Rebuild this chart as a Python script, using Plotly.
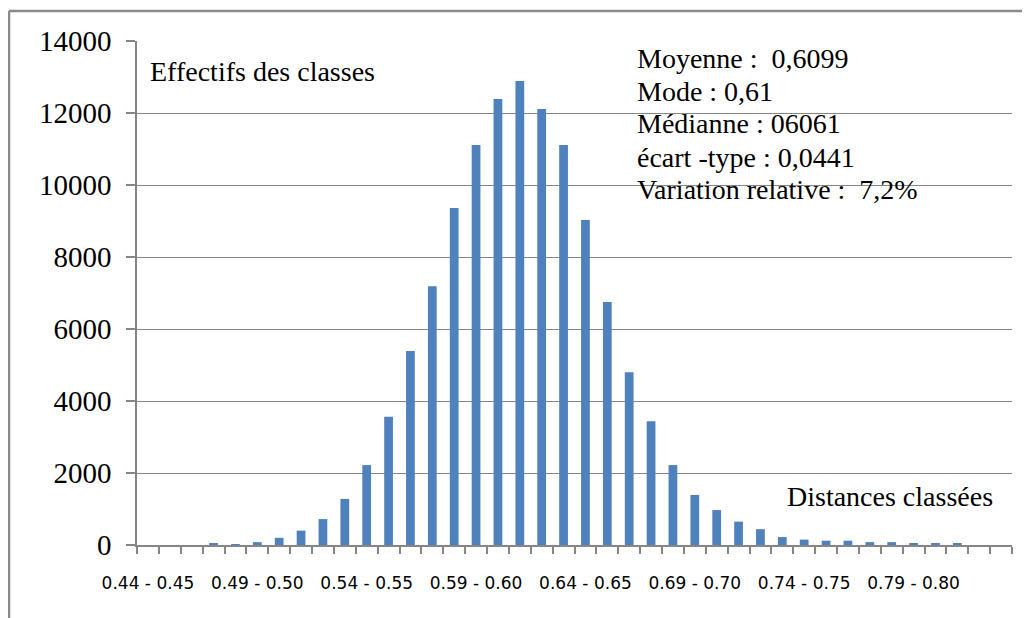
import plotly.graph_objects as go

# Class labels (bins of width 0.01 from 0.44 to 0.84)
lower_bounds = [0.44 + 0.01 * i for i in range(40)]
categories = [f"{lo:.2f} - {lo + 0.01:.2f}" for lo in lower_bounds]

# Counts per class
counts = [0, 0, 0, 30, 25, 80, 200, 400, 720, 1280,
          2220, 3560, 5390, 7190, 9360, 11110, 12390, 12890, 12110, 11110,
          9030, 6750, 4800, 3440, 2220, 1390, 970, 650, 440, 220,
          150, 120, 120, 80, 80, 30, 30, 30, 0, 0]

# Labels shown every 5 classes
label_idx = list(range(0, 40, 5))
label_text = [categories[i] for i in label_idx]

y_ticks = [0, 2000, 4000, 6000, 8000, 10000, 12000, 14000]

stats_lines = [
    "Moyenne :  0,6099",
    "Mode : 0,61",
    "Médianne : 06061",
    "écart -type : 0,0441",
    "Variation relative :  7,2%",
]

x_pos = list(range(len(categories)))

fig = go.Figure()
fig.add_trace(go.Bar(
    x=x_pos, y=counts, marker=dict(color="#4F81BD", line=dict(width=0)),
    hovertext=categories, width=0.4,
))

GRAY = "#868686"
OFF = 8  # page body margin
W, H = 1030 - OFF, 618 - OFF
L, T = 137 - OFF, 41 - OFF
R = W - (1012 - OFF)
B = H - (545 - OFF)
pw, ph = W - L - R, H - T - B


def px_x(px):
    return (px - OFF - L) / pw


def px_y(py):
    return (H - B - (py - OFF)) / ph


fig.update_layout(
    width=W, height=H,
    margin=dict(l=L, r=R, t=T, b=B, pad=0),
    paper_bgcolor="white", plot_bgcolor="white",
    showlegend=False,
    bargap=0.6,
    xaxis=dict(
        range=[-0.5, len(categories) - 0.5],
        tickmode="array", tickvals=label_idx, ticktext=label_text,
        ticks="", showgrid=False, zeroline=False,
        showline=True, linecolor=GRAY, linewidth=1.5,
        tickfont=dict(family="DejaVu Sans", size=17, color="black"),
        ticklabelstandoff=22,
        minor=dict(ticks="outside", ticklen=7, tickcolor=GRAY, tickwidth=1.5,
                   tickmode="array", tickvals=[i - 0.5 for i in range(len(categories) + 1)],
                   showgrid=False),
    ),
    yaxis=dict(
        range=[0, 14000],
        tickmode="array", tickvals=y_ticks, ticktext=[str(v) for v in y_ticks],
        ticks="outside", ticklen=9, tickcolor=GRAY, tickwidth=1.5,
        showgrid=True, gridcolor=GRAY, gridwidth=1.2,
        zeroline=False, showline=True, linecolor=GRAY, linewidth=1.5,
        tickfont=dict(family="Liberation Serif", size=29, color="black"),
        ticklabelstandoff=9,
    ),
)

# outer frame of the chart area
fig.add_shape(type="line", xref="paper", yref="paper",
              x0=px_x(9), x1=px_x(9), y0=px_y(11), y1=px_y(640),
              line=dict(color="#8a8a8a", width=2.5))
fig.add_shape(type="line", xref="paper", yref="paper",
              x0=px_x(9), x1=px_x(1040), y0=px_y(11), y1=px_y(11),
              line=dict(color="#8a8a8a", width=2.5))

serif = "Liberation Serif"
fig.add_annotation(text="Effectifs des classes", xref="paper", yref="paper",
                   x=px_x(148), y=px_y(71), xanchor="left", yanchor="middle",
                   showarrow=False, font=dict(family=serif, size=28, color="black"))
fig.add_annotation(text="Distances classées", xref="paper", yref="paper",
                   x=px_x(785), y=px_y(496), xanchor="left", yanchor="middle",
                   showarrow=False, font=dict(family=serif, size=28, color="black"))

line_y = [59, 91, 124, 157, 190]
for txt, yy in zip(stats_lines, line_y):
    fig.add_annotation(text=txt, xref="paper", yref="paper",
                       x=px_x(635), y=px_y(yy), xanchor="left", yanchor="middle",
                       showarrow=False, font=dict(family=serif, size=28, color="black"))

fig.write_html("out.html")
